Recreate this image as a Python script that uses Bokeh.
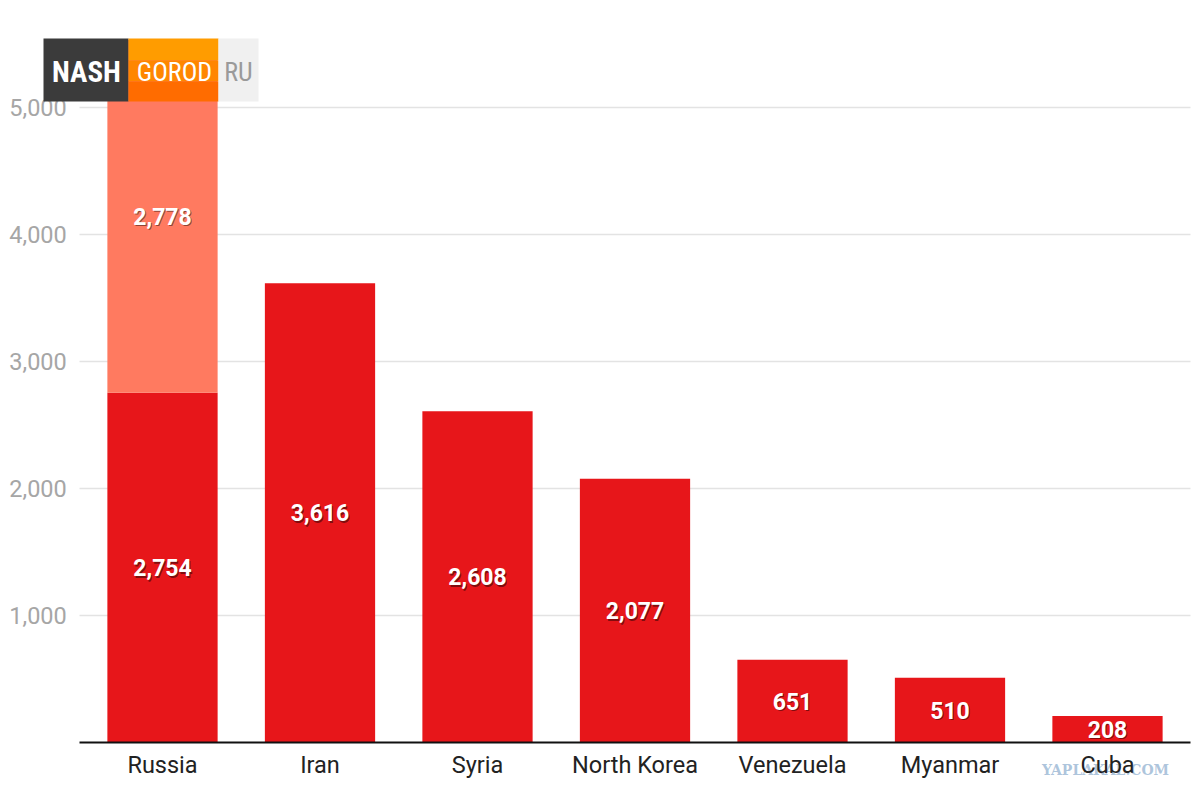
from bokeh.plotting import figure
from bokeh.models import (ColumnDataSource, Range1d, FixedTicker, NumeralTickFormatter,
                          BoxAnnotation, Label, Grid)
from bokeh.core.properties import value
from bokeh.embed import file_html
from bokeh.resources import INLINE

countries = ["Russia", "Iran", "Syria", "North Korea", "Venezuela", "Myanmar", "Cuba"]
base_vals = [2754, 3616, 2608, 2077, 651, 510, 208]
extra_vals = [2778, 0, 0, 0, 0, 0, 0]
y_ticks = [1000, 2000, 3000, 4000, 5000]

idx = list(range(len(countries)))
totals = [b + e for b, e in zip(base_vals, extra_vals)]
src = ColumnDataSource(dict(x=idx, base=base_vals, total=totals))

lab_x, lab_y, lab_t = [], [], []
for i, b, e in zip(idx, base_vals, extra_vals):
    lab_x.append(i); lab_y.append(b / 2); lab_t.append(f"{b:,}")
    if e > 0:
        lab_x.append(i); lab_y.append(b + e / 2); lab_t.append(f"{e:,}")
lsrc = ColumnDataSource(dict(x=lab_x, y=lab_y, t=lab_t))

p = figure(x_range=Range1d(-1.0286, 6.5397), y_range=Range1d(-394, 5842),
           width=1192, height=792, output_backend="svg", toolbar_location=None,
           min_border_left=0, min_border_right=0, min_border_top=0, min_border_bottom=0)

p.outline_line_color = None
p.background_fill_color = "white"
p.border_fill_color = "white"

p.xgrid.grid_line_color = None
p.ygrid.grid_line_color = "#e3e3e3"
p.ygrid.grid_line_width = 1.5
p.ygrid.ticker = FixedTicker(ticks=y_ticks)
if "cross_bounds" in Grid.properties():
    p.ygrid.cross_bounds = (-0.527, 6.527)

p.yaxis.fixed_location = -0.5
p.yaxis.ticker = FixedTicker(ticks=y_ticks)
p.yaxis.formatter = NumeralTickFormatter(format="0,0")
p.yaxis.axis_line_color = None
p.yaxis.major_tick_line_color = None
p.yaxis.minor_tick_line_color = None
p.yaxis.major_tick_out = 0
p.yaxis.major_tick_in = 0
p.yaxis.minor_tick_out = 0
p.yaxis.major_label_text_font = "Roboto"
p.yaxis.major_label_text_font_size = "23.5px"
p.yaxis.major_label_text_color = "#a6a6a6"
p.yaxis.major_label_standoff = 17

p.xaxis.fixed_location = 0
p.xaxis.bounds = (-0.527, 6.527)
p.xaxis.ticker = FixedTicker(ticks=idx)
p.xaxis.major_label_overrides = {i: c for i, c in zip(idx, countries)}
p.xaxis.axis_line_color = "#111111"
p.xaxis.axis_line_width = 2
p.xaxis.major_tick_line_color = None
p.xaxis.minor_tick_line_color = None
p.xaxis.major_tick_out = 0
p.xaxis.major_tick_in = 0
p.xaxis.minor_tick_out = 0
p.xaxis.major_label_text_font = "Roboto"
p.xaxis.major_label_text_font_size = "23.5px"
p.xaxis.major_label_text_color = "#222222"
p.xaxis.major_label_standoff = 9

p.vbar(x="x", top="base", width=0.7, source=src, fill_color="#e7161a", line_color=None)
p.vbar(x="x", bottom="base", top="total", width=0.7, source=src, fill_color="#ff7a60", line_color=None)

p.text(x="x", y="y", text="t", source=lsrc, x_offset=1, y_offset=1.5,
       text_align="center", text_baseline="middle", text_font=value("Roboto"),
       text_font_style="bold", text_font_size="23px", text_color="black", text_alpha=0.45)
p.text(x="x", y="y", text="t", source=lsrc,
       text_align="center", text_baseline="middle", text_font=value("Roboto"),
       text_font_style="bold", text_font_size="23px", text_color="white")

# watermark behind the axis labels
p.add_layout(Label(x=1105, y=769, x_units="canvas", y_units="canvas", text="YAPLAKAL.COM",
                   text_align="center", text_baseline="middle", text_font="DejaVu Serif",
                   text_font_style="bold", text_font_size="14px", text_color="#a3bdd8",
                   text_alpha=0.9, level="underlay"))

# logo watermark
def box(l, r, t, b, color):
    p.add_layout(BoxAnnotation(left=l, right=r, top=t, bottom=b,
                               left_units="canvas", right_units="canvas",
                               top_units="canvas", bottom_units="canvas",
                               fill_color=color, fill_alpha=1, line_color=None, level="overlay"))

box(43, 128, 38, 101, "#3b3b3b")
box(128, 218, 38, 60, "#ff9c00")
box(128, 218, 60, 81, "#ff8600")
box(128, 218, 81, 101, "#ff6c00")
box(218, 258, 38, 101, "#f0f0f0")

logo_font = "'Liberation Sans Narrow', 'Roboto Condensed', sans-serif"
p.add_layout(Label(x=86, y=71, x_units="canvas", y_units="canvas", text="NASH",
                   text_align="center", text_baseline="middle", text_font=logo_font,
                   text_font_style="bold", text_font_size="29px", text_color="white", level="overlay"))
p.add_layout(Label(x=174, y=71, x_units="canvas", y_units="canvas", text="GOROD",
                   text_align="center", text_baseline="middle", text_font=logo_font,
                   text_font_size="26px", text_color="white", level="overlay"))
p.add_layout(Label(x=238, y=71, x_units="canvas", y_units="canvas", text="RU",
                   text_align="center", text_baseline="middle", text_font=logo_font,
                   text_font_size="26px", text_color="#9a9a9a", level="overlay"))

open("out.html", "w").write(file_html(p, INLINE))
